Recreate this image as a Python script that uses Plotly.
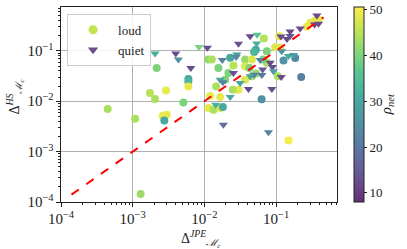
import plotly.graph_objects as go

# ---- data ----
loud_x = [1.29e-3, 4.48e-4, 1.08e-3, 2.62e-3, 2.99e-3, 2.76e-3, 1.74e-3, 2.05e-3, 2.92e-3, 2.16e-3,
          5.09e-3, 5.98e-3, 5.98e-3, 5.98e-3, 1.14e-2, 1.27e-2, 2.29e-2, 3.70e-2, 5.22e-2, 4.94e-2,
          6.76e-2, 7.43e-2, 0.111, 0.097, 0.114, 0.269, 0.299, 0.352, 0.391, 0.127,
          0.185, 0.224, 0.106, 7.43e-2, 6.61e-2, 4.59e-2, 2.54e-2, 1.57e-2, 2.16e-2, 3.70e-2,
          4.25e-2, 3.70e-2, 2.99e-2, 2.49e-2, 1.95e-2, 1.46e-2, 1.20e-2, 1.66e-2, 1.14e-2, 1.34e-2,
          1.66e-2, 1.81e-2, 6.29e-2, 0.149, 4.59e-2, 5.27e-2]
loud_y = [1.44e-4, 7.0e-3, 4.48e-3, 5.14e-3, 5.38e-3, 4.15e-3, 1.46e-2, 1.11e-2, 1.64e-2, 4.58e-2,
          9.46e-3, 2.77e-2, 2.44e-2, 1.97e-2, 6.71e-2, 6.71e-2, 7.26e-2, 6.71e-2, 0.105, 9.46e-2,
          0.176, 9.82e-2, 0.195, 0.118, 0.115, 0.301, 0.361, 0.402, 0.421, 6.41e-2,
          7.20e-2, 3.03e-2, 3.12e-2, 5.77e-2, 6.71e-2, 6.71e-2, 5.09e-2, 4.58e-2, 3.65e-2, 4.93e-2,
          4.58e-2, 2.68e-2, 1.69e-2, 1.69e-2, 2.68e-2, 1.97e-2, 1.27e-2, 1.21e-2, 7.32e-3, 6.77e-3,
          7.32e-3, 7.66e-3, 1.09e-2, 1.66e-3, 3.12e-2, 3.53e-2]
loud_rho = [43, 44, 44, 49, 49, 30, 45, 44, 49, 40,
            40, 30, 33, 49, 42, 44, 30, 42, 30, 33,
            45, 40, 49, 48, 48, 49, 49, 48, 49, 26,
            23, 22, 44, 44, 40, 48, 45, 40, 40, 48,
            40, 48, 49, 44, 40, 44, 49, 49, 49, 44,
            48, 30, 25, 50, 44, 42]

quiet_x = [2.05e-3, 3.99e-3, 4.34e-3, 6.46e-3, 8.43e-3, 1.10e-2, 2.99e-2, 4.35e-2, 5.45e-2, 5.36e-2,
           1.78e-2, 2.83e-2, 2.77e-2, 6.00e-2, 0.117, 0.157, 0.142, 0.157, 0.217, 0.371,
           0.344, 0.391, 0.120, 0.149, 0.175, 8.28e-2, 8.91e-2, 9.20e-2, 0.118, 8.73e-2,
           6.50e-2, 6.34e-2, 4.94e-2, 4.35e-2, 4.12e-2, 3.15e-2, 2.54e-2, 1.66e-2, 1.82e-2, 2.29e-2,
           1.44e-2, 1.84e-2, 7.83e-2]
quiet_y = [8.83e-2, 8.83e-2, 6.71e-2, 4.58e-2, 0.119, 0.115, 0.138, 0.195, 0.208, 0.140,
           6.56e-2, 8.43e-2, 7.52e-2, 6.56e-2, 0.193, 0.242, 0.172, 0.197, 0.278, 0.505,
           0.334, 0.345, 9.82e-2, 7.87e-2, 8.24e-2, 5.77e-2, 4.80e-2, 3.93e-2, 3.03e-2, 1.75e-2,
           4.24e-2, 3.30e-2, 3.37e-2, 3.12e-2, 1.75e-2, 2.31e-2, 3.65e-2, 2.68e-2, 2.39e-2, 1.21e-2,
           8.51e-3, 3.40e-3, 2.43e-3]
quiet_rho = [32, 12, 25, 12, 40, 12, 13, 12, 36, 32,
             22, 28, 23, 22, 12, 12, 12, 14, 12, 12,
             12, 12, 26, 30, 28, 12, 13, 28, 12, 13,
             15, 20, 22, 30, 12, 30, 13, 30, 22, 30,
             32, 18, 22]

line_xy = [1.4e-4, 0.46]

rho_min, rho_max = 8.0, 50.6
cbar_ticks = [10, 20, 30, 40, 50]
decades = [-4, -3, -2, -1, 0]

x_title = "Δ<sup><i>JPE</i></sup><sub><i>ℳ<sub>c</sub></i></sub>"
y_title = "Δ<sup><i>HS</i></sup><sub><i>ℳ<sub>c</sub></i></sub>"
c_title = "<i>ρ<sub>net</sub></i>"

# ---- style ----
viridis = ['#440154', '#482878', '#3e4989', '#31688e', '#26828e',
           '#1f9e89', '#35b779', '#6ece58', '#b5de2b', '#fde725']
alpha = 0.82


def blend(h):
    r, g, b = int(h[1:3], 16), int(h[3:5], 16), int(h[5:7], 16)
    f = lambda c: round(alpha * c + (1 - alpha) * 255)
    return f"rgb({f(r)},{f(g)},{f(b)})"


cscale = [[i / 9, blend(c)] for i, c in enumerate(viridis)]
minor_vals = [m * 10 ** d for d in decades for m in range(2, 10)]
FONT = "Liberation Serif"
INK = "#222"

fig = go.Figure()
fig.add_trace(go.Scatter(
    x=loud_x, y=loud_y, mode="markers", showlegend=False,
    marker=dict(symbol="circle", size=8, color=loud_rho, colorscale=cscale,
                cmin=rho_min, cmax=rho_max, line=dict(width=0),
                colorbar=dict(x=1.062, xanchor="left", xpad=0, y=0.5, yanchor="middle",
                              ypad=0, len=1, lenmode="fraction", thickness=10,
                              outlinewidth=1, outlinecolor=INK,
                              tickvals=cbar_ticks, ticks="outside", ticklen=3,
                              tickcolor=INK,
                              tickfont=dict(family=FONT, size=13, color=INK))),
))
fig.add_trace(go.Scatter(
    x=quiet_x, y=quiet_y, mode="markers", showlegend=False,
    marker=dict(symbol="triangle-down", size=8, color=quiet_rho, colorscale=cscale,
                cmin=rho_min, cmax=rho_max, line=dict(width=0)),
))
fig.add_trace(go.Scatter(
    x=line_xy, y=line_xy, mode="lines", showlegend=False,
    line=dict(color="#ff0000", width=2, dash="dash"),
))
# legend entries (on the overlay axes that carry the minor ticks)
fig.add_trace(go.Scatter(x=[None], y=[None], mode="markers", name="loud", xaxis="x2", yaxis="y2",
                         marker=dict(symbol="circle", size=9, color=blend('#b5de2b'))))
fig.add_trace(go.Scatter(x=[None], y=[None], mode="markers", name="quiet", xaxis="x2", yaxis="y2",
                         marker=dict(symbol="triangle-down", size=9, color=blend('#482878'))))

axis_common = dict(
    type="log", showgrid=True, gridcolor="#b0b0b0", gridwidth=1,
    showline=True, linecolor=INK, linewidth=1, mirror=True,
    ticks="outside", ticklen=4, tickcolor=INK,
    dtick=1, exponentformat="power", zeroline=False, automargin=False,
    tickfont=dict(family=FONT, size=12, color=INK),
)
minor_common = dict(
    type="log", tickvals=minor_vals, ticks="outside", ticklen=2, tickcolor=INK,
    showticklabels=False, showgrid=False, showline=False, zeroline=False,
    automargin=False,
)
xr = [-4, -0.15]
yr = [-4, -0.13]

fig.update_layout(
    width=407, height=249,
    margin=dict(l=61, r=70, t=7, b=47),
    paper_bgcolor="white", plot_bgcolor="white",
    xaxis=dict(**axis_common, range=xr),
    yaxis=dict(**axis_common, range=yr),
    xaxis2=dict(**minor_common, range=xr, overlaying="x", anchor="y", side="bottom"),
    yaxis2=dict(**minor_common, range=yr, overlaying="y", anchor="x", side="left"),
    legend=dict(x=0.022, y=0.965, xanchor="left", yanchor="top",
                bgcolor="rgba(255,255,255,0.85)", bordercolor="#cccccc", borderwidth=1,
                font=dict(family=FONT, size=13, color=INK), tracegroupgap=0,
                itemwidth=40),
    annotations=[
        dict(text=x_title, xref="paper", yref="paper", x=0.504, y=-0.185,
             xanchor="center", yanchor="middle", showarrow=False,
             font=dict(family=FONT, size=14, color=INK)),
        dict(text=y_title, xref="paper", yref="paper", x=-0.167, y=0.54,
             xanchor="center", yanchor="middle", showarrow=False, textangle=-90,
             font=dict(family=FONT, size=14, color=INK)),
        dict(text=c_title, xref="paper", yref="paper", x=1.18, y=0.5,
             xanchor="center", yanchor="middle", showarrow=False, textangle=-90,
             font=dict(family=FONT, size=15, color=INK)),
    ],
)

fig.write_html("out.html", config={"displayModeBar": False},
               post_script="document.body.style.margin='0';")
